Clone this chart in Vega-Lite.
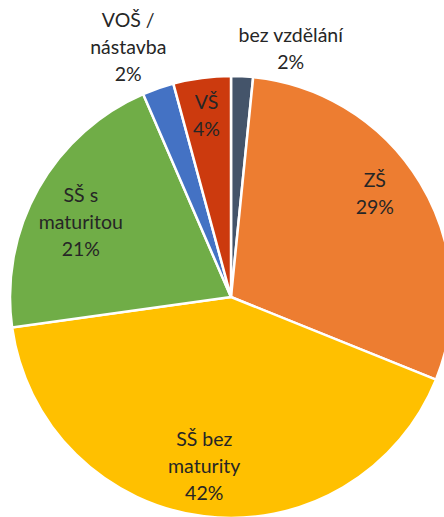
{
  "$schema": "https://vega.github.io/schema/vega-lite/v6.json",
  "width": 444,
  "height": 505,
  "autosize": {"type": "none"},
  "padding": {"left": 0, "top": 0, "right": 0, "bottom": 12},
  "background": "white",
  "view": {"stroke": null},
  "title": {"text": "zdroj: ČSÚ", "orient": "bottom", "anchor": "start", "frame": "group", "dx": 375, "offset": -20, "fontSize": 18, "font": "Lato", "fontWeight": "normal", "color": "#000000", "baseline": "top"},
  "data": {"values": [
    {"cat": "bez vzdělání", "label": "bez vzdělání\n2%", "value": 1.6, "order": 1},
    {"cat": "ZŠ", "label": "ZŠ\n29%", "value": 29.5, "order": 2},
    {"cat": "SŠ bez maturity", "label": "SŠ bez\nmaturity\n42%", "value": 41.7, "order": 3},
    {"cat": "SŠ s maturitou", "label": "SŠ s\nmaturitou\n21%", "value": 20.7, "order": 4},
    {"cat": "VOŠ / nástavba", "label": "VOŠ /\nnástavba\n2%", "value": 2.3, "order": 5},
    {"cat": "VŠ", "label": "VŠ\n4%", "value": 4.2, "order": 6}
  ]},
  "encoding": {
    "theta": {"field": "value", "type": "quantitative", "stack": true},
    "order": {"field": "order", "type": "quantitative", "sort": "ascending"}
  },
  "layer": [
    {
      "mark": {"type": "arc", "outerRadius": 221, "x": 231, "y": 297, "stroke": "white", "strokeWidth": 2.5},
      "encoding": {
        "color": {"field": "cat", "type": "nominal", "legend": null,
          "scale": {"domain": ["bez vzdělání", "ZŠ", "SŠ bez maturity", "SŠ s maturitou", "VOŠ / nástavba", "VŠ"],
                    "range": ["#44546A", "#ED7D31", "#FFC000", "#70AD47", "#4472C4", "#CC3A0E"]}}
      }
    },
    {
      "mark": {"type": "text", "radius": 254, "x": 231, "y": 297, "dx": 47, "dy": -7, "lineBreak": "\n", "font": "Lato", "fontSize": 19.5, "lineHeight": 27, "fill": "#262626", "baseline": "middle", "align": "center"},
      "encoding": {"text": {"condition": {"test": "datum.cat == 'bez vzdělání'", "field": "label"}, "value": ""}}
    },
    {
      "mark": {"type": "text", "radius": 175, "x": 231, "y": 297, "dx": -6, "dy": -26, "lineBreak": "\n", "font": "Lato", "fontSize": 19.5, "lineHeight": 27, "fill": "#262626", "baseline": "middle", "align": "center"},
      "encoding": {"text": {"condition": {"test": "datum.cat == 'ZŠ'", "field": "label"}, "value": ""}}
    },
    {
      "mark": {"type": "text", "radius": 170, "x": 231, "y": 297, "dx": -6, "dy": -26, "lineBreak": "\n", "font": "Lato", "fontSize": 19.5, "lineHeight": 27, "fill": "#262626", "baseline": "middle", "align": "center"},
      "encoding": {"text": {"condition": {"test": "datum.cat == 'SŠ bez maturity'", "field": "label"}, "value": ""}}
    },
    {
      "mark": {"type": "text", "radius": 170, "x": 231, "y": 297, "dx": -2, "dy": -18, "lineBreak": "\n", "font": "Lato", "fontSize": 19.5, "lineHeight": 27, "fill": "#262626", "baseline": "middle", "align": "center"},
      "encoding": {"text": {"condition": {"test": "datum.cat == 'SŠ s maturitou'", "field": "label"}, "value": ""}}
    },
    {
      "mark": {"type": "text", "radius": 272, "x": 231, "y": 297, "dx": -13, "dy": -19, "lineBreak": "\n", "font": "Lato", "fontSize": 19.5, "lineHeight": 27, "fill": "#262626", "baseline": "middle", "align": "center"},
      "encoding": {"text": {"condition": {"test": "datum.cat == 'VOŠ / nástavba'", "field": "label"}, "value": ""}}
    },
    {
      "mark": {"type": "text", "radius": 186, "x": 231, "y": 297, "dx": 0, "dy": -10, "lineBreak": "\n", "font": "Lato", "fontSize": 19.5, "lineHeight": 27, "fill": "#262626", "baseline": "middle", "align": "center"},
      "encoding": {"text": {"condition": {"test": "datum.cat == 'VŠ'", "field": "label"}, "value": ""}}
    }
  ]
}
